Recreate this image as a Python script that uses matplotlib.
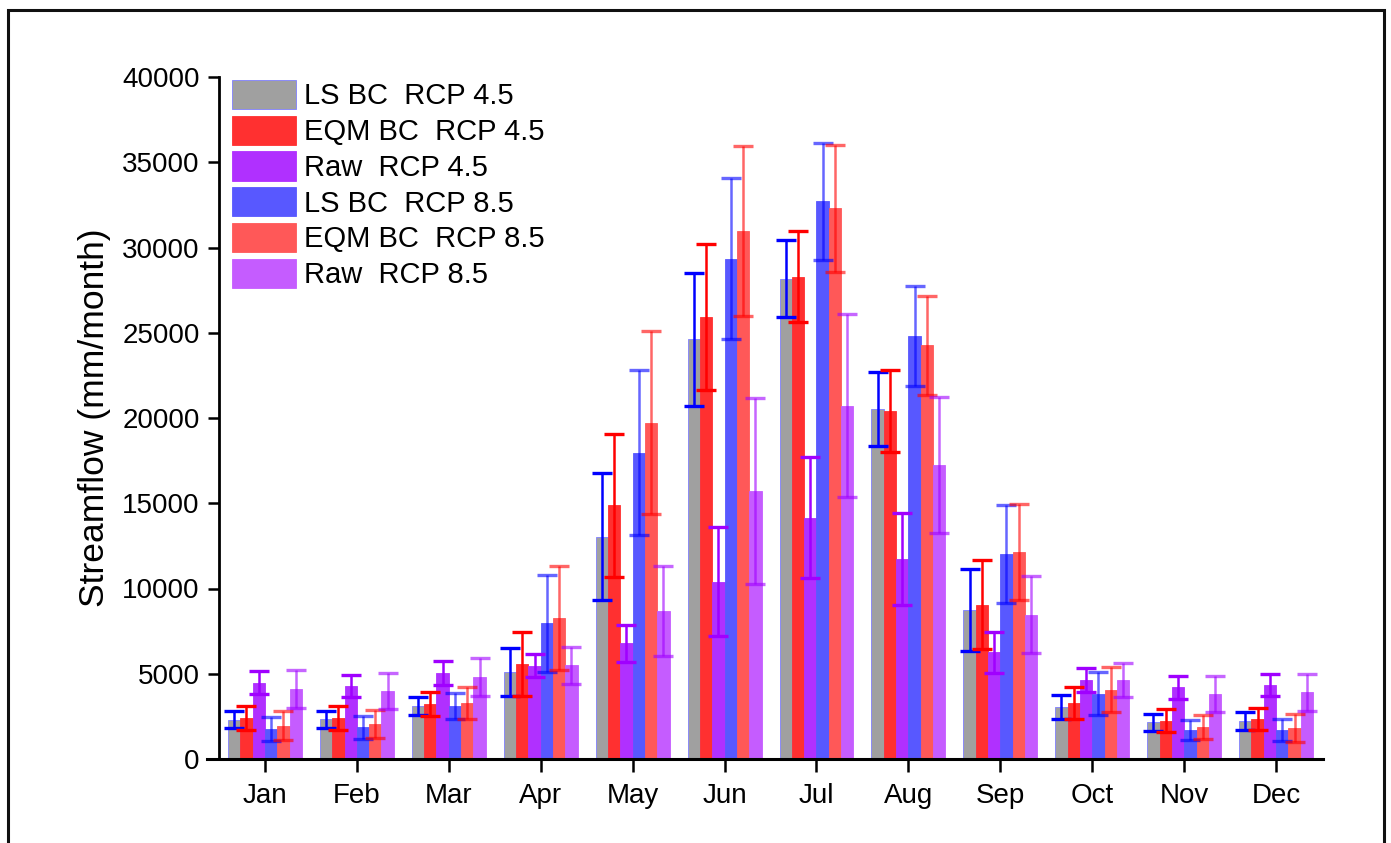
import numpy as np
import matplotlib
matplotlib.use('Agg')
import matplotlib.pyplot as plt
from matplotlib.patches import Rectangle

plt.rcParams['font.family'] = ['Liberation Sans', 'DejaVu Sans']

months = ['Jan', 'Feb', 'Mar', 'Apr', 'May', 'Jun', 'Jul', 'Aug', 'Sep', 'Oct', 'Nov', 'Dec']

# mean monthly streamflow and its spread for each run
ls_45 = [2300, 2330, 3110, 5120, 13030, 24620, 28175, 20520, 8750, 3050, 2150, 2250]
ls_45_err = [510, 510, 530, 1400, 3730, 3900, 2260, 2190, 2400, 730, 500, 520]
eqm_45 = [2400, 2400, 3245, 5550, 14870, 25920, 28290, 20430, 9050, 3285, 2230, 2350]
eqm_45_err = [700, 700, 700, 1870, 4210, 4270, 2680, 2400, 2600, 910, 675, 665]
raw_45 = [4475, 4280, 5060, 5470, 6790, 10400, 14145, 11735, 6260, 4635, 4200, 4340]
raw_45_err = [665, 625, 700, 665, 1085, 3190, 3540, 2700, 1190, 730, 665, 655]
ls_85 = [1760, 1860, 3110, 7975, 17965, 29345, 32710, 24820, 12010, 3830, 1700, 1700]
ls_85_err = [705, 665, 760, 2845, 4835, 4710, 3440, 2950, 2865, 1250, 605, 665]
eqm_85 = [1955, 2050, 3300, 8290, 19735, 30975, 32310, 24275, 12130, 4065, 1875, 1820]
eqm_85_err = [860, 840, 945, 3050, 5350, 4970, 3720, 2905, 2800, 1310, 725, 800]
raw_85 = [4085, 3970, 4810, 5495, 8680, 15705, 20710, 17260, 8460, 4615, 3810, 3910]
raw_85_err = [1115, 1055, 1135, 1085, 2640, 5455, 5365, 3995, 2255, 1005, 1030, 1075]

series = [
    ('LS BC  RCP 4.5', ls_45, ls_45_err, '#a0a0a0', '#0000ff', 1.0),
    ('EQM BC  RCP 4.5', eqm_45, eqm_45_err, '#ff3030', '#ff0000', 1.0),
    ('Raw  RCP 4.5', raw_45, raw_45_err, '#b030ff', '#a000ff', 1.0),
    ('LS BC  RCP 8.5', ls_85, ls_85_err, '#5858ff', '#0000ff', 0.6),
    ('EQM BC  RCP 8.5', eqm_85, eqm_85_err, '#ff5858', '#ff0000', 0.6),
    ('Raw  RCP 8.5', raw_85, raw_85_err, '#c55cff', '#a000ff', 0.6),
]

fig = plt.figure(figsize=(13.91, 8.43), dpi=100)
ax = fig.add_axes([207 / 1391, 84 / 843, 1116 / 1391, 682 / 843])

# outer frame around the figure
fig.patches.append(Rectangle((8 / 1391, -0.05), 1376 / 1391, 1.05 - 10 / 843,
                             transform=fig.transFigure, fill=False,
                             edgecolor='#111111', linewidth=2.2))

x = np.arange(len(months))
w = 0.134
for i, (label, vals, err, fc, ec, a) in enumerate(series):
    pos = x + (i - 2.5) * w
    ax.bar(pos, vals, width=w, color=fc, edgecolor='#8080ff' if i == 0 else fc,
           linewidth=0.6, label=label, zorder=2)
    ax.errorbar(pos, vals, yerr=err, fmt='none', ecolor=ec, alpha=a,
                elinewidth=1.8, capsize=7, capthick=2.4, zorder=3)

ax.set_xlim(-0.63, 11.51)
ax.set_ylim(0, 40000)
ax.set_yticks(np.arange(0, 40001, 5000))
ax.set_xticks(x)
ax.set_xticklabels(months)

ax.spines['top'].set_visible(False)
ax.spines['right'].set_visible(False)
ax.spines['left'].set_position(('data', -0.5))
ax.spines['left'].set_linewidth(2)
ax.spines['bottom'].set_linewidth(2.2)
ax.tick_params(axis='both', direction='out', width=1.8, labelsize=20)
ax.tick_params(axis='y', length=8, pad=6)
ax.tick_params(axis='x', length=9, pad=8)

ax.set_ylabel('Streamflow (mm/month)', fontsize=25.5, labelpad=8)

ax.legend(loc='upper left', bbox_to_anchor=(0.0224, 0.996), frameon=False,
          fontsize=21, handlelength=2.19, handleheight=1.17,
          labelspacing=0.18, handletextpad=0.27, borderpad=0, borderaxespad=0)

plt.savefig('out.png', dpi=100)
